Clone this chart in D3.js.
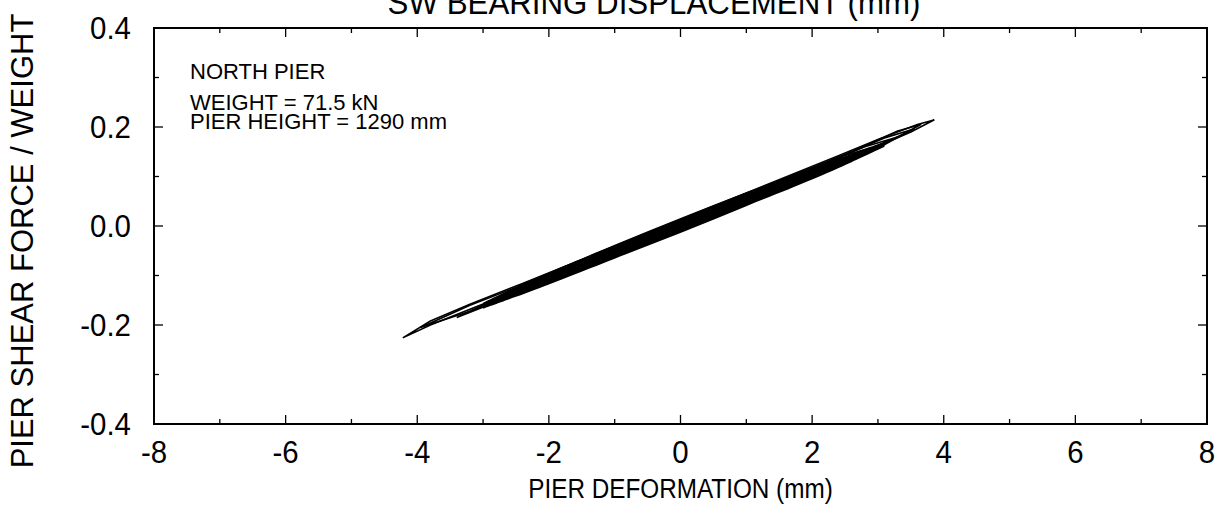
<!DOCTYPE html>
<html lang="en">
<head>
    <meta charset="UTF-8">
    <title>Pier shear hysteresis</title>
    <script src="https://d3js.org/d3.v7.min.js"></script>
    <style>
        body { margin: 0; background: #fff; }
        text { font-family: "Liberation Sans", Arial, sans-serif; fill: #000; }
    </style>
</head>
<body>
<script>
    // tick values
    var xMajor = [-8, -6, -4, -2, 0, 2, 4, 6, 8];
    var xMinor = [-7, -5, -3, -1, 1, 3, 5, 7];
    var yMajor = [-0.4, -0.2, 0.0, 0.2, 0.4];
    var yMinor = [-0.3, -0.1, 0.1, 0.3];

    var notes = ["NORTH PIER", "WEIGHT = 71.5 kN", "PIER HEIGHT = 1290 mm"];

    // hysteresis loops, [deformation mm, shear/weight]
    var loop1 = [[-4.22,-0.226],[-3.8,-0.200],[-3.2,-0.168],[-2.4,-0.126],[-1.6,-0.084],[-0.8,-0.042],[0,0.000],[0.8,0.043],[1.6,0.086],[2.4,0.128],[3.0,0.161],[3.5,0.190],[3.85,0.214],
                 [3.6,0.205],[3.0,0.175],[2.4,0.142],[1.6,0.099],[0.8,0.056],[0,0.013],[-0.8,-0.030],[-1.6,-0.073],[-2.4,-0.116],[-3.2,-0.158],[-3.8,-0.192],[-4.22,-0.226]];
    var loop2 = [[-3.95,-0.205],[-3.2,-0.172],[-2.4,-0.130],[-1.6,-0.088],[-0.8,-0.046],[0,-0.004],[0.8,0.039],[1.6,0.082],[2.4,0.124],[3.0,0.157],[3.65,0.205],
                 [3.3,0.192],[2.4,0.138],[1.6,0.095],[0.8,0.052],[0,0.009],[-0.8,-0.034],[-1.6,-0.077],[-2.4,-0.119],[-3.2,-0.160],[-3.95,-0.205]];
    var loop3 = [[-3.4,-0.185],[-2.6,-0.143],[-1.8,-0.099],[-0.9,-0.050],[0,-0.002],[0.9,0.046],[1.8,0.094],[2.7,0.143],[3.55,0.196],
                 [3.1,0.178],[2.2,0.128],[1.3,0.080],[0.4,0.031],[-0.5,-0.017],[-1.4,-0.066],[-2.3,-0.115],[-3.4,-0.185]];
    var loop4 = [[-3.0,-0.162],[-2.2,-0.121],[-1.4,-0.079],[-0.6,-0.036],[0.2,0.008],[1.0,0.052],[1.8,0.095],[2.6,0.140],[3.3,0.180],
                 [2.8,0.160],[2.0,0.115],[1.2,0.072],[0.4,0.029],[-0.4,-0.014],[-1.2,-0.058],[-2.0,-0.101],[-3.0,-0.162]];
    var loop5 = [[-2.7,-0.148],[-1.9,-0.106],[-1.0,-0.058],[-0.1,-0.009],[0.8,0.040],[1.7,0.089],[2.9,0.158],
                 [2.4,0.139],[1.5,0.090],[0.6,0.041],[-0.3,-0.008],[-1.2,-0.057],[-2.7,-0.148]];
    var loop6 = [[-2.3,-0.126],[-1.5,-0.083],[-0.6,-0.035],[0.3,0.014],[1.2,0.063],[2.5,0.138],
                 [1.9,0.112],[1.0,0.063],[0.1,0.014],[-0.8,-0.034],[-2.3,-0.126]];
    var loop7 = [[-1.8,-0.100],[-1.0,-0.057],[-0.1,-0.008],[0.8,0.041],[2.1,0.115],
                 [1.5,0.091],[0.6,0.042],[-0.3,-0.007],[-1.8,-0.100]];
    var loop8 = [[-1.3,-0.072],[-0.5,-0.029],[0.4,0.020],[1.5,0.082],
                 [0.9,0.058],[0.0,0.009],[-1.3,-0.072]];
    var loops = [loop1, loop2, loop3, loop4, loop5, loop6, loop7, loop8];

    // dense central band: [deformation, lower edge, upper edge]
    var band = [[-3.0,-0.167,-0.155],[-2.5,-0.143,-0.123],[-2.0,-0.118,-0.094],[-1.0,-0.066,-0.038],[0,-0.014,0.016],
                [1.0,0.040,0.068],[2.0,0.094,0.118],[2.6,0.129,0.146],[3.1,0.160,0.170]];

    var margin = {top: 28, right: 18, bottom: 95, left: 154},
        W = 1225, H = 519,
        width = W - margin.left - margin.right,
        height = H - margin.top - margin.bottom;

    var svg = d3.select("body").append("svg")
        .attr("width", W)
        .attr("height", H);

    var g = svg.append("g")
        .attr("transform", "translate(" + margin.left + "," + margin.top + ")");

    var x = d3.scaleLinear().domain([-8, 8]).range([0, width]);
    var y = d3.scaleLinear().domain([-0.4, 0.4]).range([height, 0]);

    // the scan is a bit narrower than tall, so text gets squeezed sideways
    var squeeze = 0.92;
    var fmtX = function(d) { return String(d); };
    var fmtY = function(d) { return d3.format(".1f")(d).replace("\u2212", "-"); };

    // frame
    g.append("rect")
        .attr("width", width)
        .attr("height", height)
        .attr("fill", "none")
        .attr("stroke", "#000")
        .attr("stroke-width", 2);

    // ticks on all four sides, pointing inward
    function vTicks(vals, len) {
        vals.forEach(function(v) {
            g.append("line").attr("x1", x(v)).attr("x2", x(v)).attr("y1", height).attr("y2", height - len)
                .attr("stroke", "#000").attr("stroke-width", 1.3);
            g.append("line").attr("x1", x(v)).attr("x2", x(v)).attr("y1", 0).attr("y2", len)
                .attr("stroke", "#000").attr("stroke-width", 1.3);
        });
    }
    function hTicks(vals, len) {
        vals.forEach(function(v) {
            g.append("line").attr("y1", y(v)).attr("y2", y(v)).attr("x1", 0).attr("x2", len)
                .attr("stroke", "#000").attr("stroke-width", 1.3);
            g.append("line").attr("y1", y(v)).attr("y2", y(v)).attr("x1", width).attr("x2", width - len)
                .attr("stroke", "#000").attr("stroke-width", 1.3);
        });
    }
    vTicks(xMajor, 9);
    vTicks(xMinor, 5);
    hTicks(yMajor, 9);
    hTicks(yMinor, 5);

    // tick labels
    g.selectAll(".xlab")
        .data(xMajor)
        .enter().append("text")
        .attr("transform", function(d) { return "translate(" + x(d) + "," + (height + 39) + ") scale(" + squeeze + ",1)"; })
        .attr("text-anchor", "middle")
        .style("font-size", "32px")
        .text(fmtX);

    g.selectAll(".ylab")
        .data(yMajor)
        .enter().append("text")
        .attr("transform", function(d) { return "translate(-23," + (y(d) + 11) + ") scale(" + squeeze + ",1)"; })
        .attr("text-anchor", "end")
        .style("font-size", "32px")
        .text(fmtY);

    // axis titles
    svg.append("text")
        .attr("transform", "translate(" + (margin.left + width / 2) + ",498) scale(0.9,1)")
        .attr("text-anchor", "middle")
        .style("font-size", "27px")
        .text("PIER DEFORMATION (mm)");

    svg.append("text")
        .attr("transform", "translate(33,241) rotate(-90)")
        .attr("text-anchor", "middle")
        .style("font-size", "31px")
        .text("PIER SHEAR FORCE / WEIGHT");

    svg.append("text")
        .attr("transform", "translate(654,14) scale(" + squeeze + ",1)")
        .attr("text-anchor", "middle")
        .style("font-size", "34px")
        .text("SW BEARING DISPLACEMENT (mm)");

    // annotation
    g.selectAll(".note")
        .data(notes)
        .enter().append("text")
        .attr("x", 36)
        .attr("y", function(d, i) { return i === 0 ? 51 : 63 + i * 19; })
        .style("font-size", "22px")
        .text(function(d) { return d; });

    // data
    var area = d3.area()
        .x(function(d) { return x(d[0]); })
        .y0(function(d) { return y(d[1]); })
        .y1(function(d) { return y(d[2]); })
        .curve(d3.curveCatmullRom);

    g.append("path")
        .datum(band)
        .attr("d", area)
        .attr("fill", "#000");

    var line = d3.line()
        .x(function(d) { return x(d[0]); })
        .y(function(d) { return y(d[1]); });

    g.selectAll(".loop")
        .data(loops)
        .enter().append("path")
        .attr("d", line)
        .attr("fill", "none")
        .attr("stroke", "#000")
        .attr("stroke-width", 1.6)
        .attr("stroke-linejoin", "round");
</script>
</body>
</html>
